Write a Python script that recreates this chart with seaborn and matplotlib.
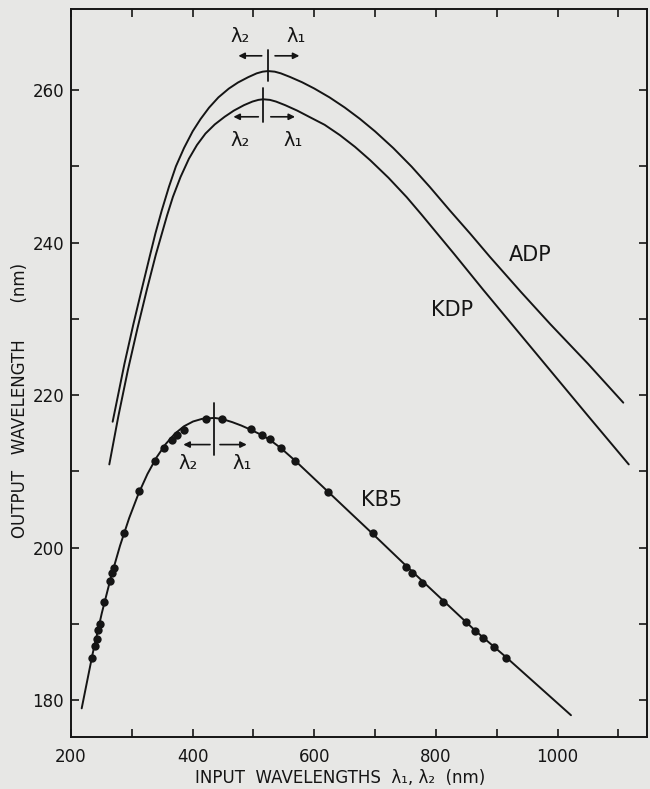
import matplotlib
matplotlib.use("Agg")
import matplotlib.pyplot as plt
import seaborn as sns

# ---------------- data ----------------
adp_x = [268.5, 274.9, 287.9, 302.6, 315.2, 329.2, 338.8, 349.2, 361.0, 372.5,
         385.8, 400.1, 413.0, 427.0, 442.4, 459.5, 474.6, 491.4, 505.3, 515.1,
         524, 535, 545, 560, 580, 600, 625, 650, 675, 700, 730, 760, 790, 823,
         856, 889, 940, 988, 1050, 1108]
adp_y = [216.5, 219.0, 224.1, 229.3, 233.5, 238.1, 241.2, 244.2, 247.3, 250.0,
         252.4, 254.6, 256.2, 257.7, 259.05, 260.2, 261.0, 261.7, 262.2, 262.42,
         262.5, 262.42, 262.2, 261.73, 261.03, 260.21, 259.05, 257.72, 256.23,
         254.58, 252.39, 249.96, 247.29, 244.2, 241.2, 238.1, 233.5, 229.3,
         224.1, 219.0]

kdp_x = [263.0, 278.0, 293.4, 309.4, 324.6, 339.4, 358.0, 367.6, 380.1, 393.9,
         407.1, 421.1, 436.4, 452.6, 467.7, 484.5, 498.4, 508.2, 516, 527, 537,
         552, 572, 592, 617, 642, 667, 692, 722, 752, 776, 830, 878, 930, 988,
         1050, 1117]
kdp_y = [210.9, 217.27, 223.22, 228.79, 233.78, 238.39, 243.57, 246.0, 248.6,
         251.0, 252.8, 254.3, 255.5, 256.5, 257.31, 258.03, 258.5, 258.72, 258.8,
         258.72, 258.5, 258.03, 257.31, 256.48, 255.45, 254.1, 252.55, 250.8,
         248.5, 245.95, 243.7, 238.5, 233.78, 228.79, 223.22, 217.27, 210.9]

kb5_pts_x = [235, 239.5, 242.3, 245, 247.7, 254.8, 264.1, 268, 270.7, 287.2,
             312.3, 338.2, 353.5, 365.6, 373.8, 385.9, 421.5, 448.8, 495.6,
             513.6, 527.3, 544.9, 568.4, 622.2, 697.3, 751, 760.3, 776.8,
             812.4, 849.7, 864.5, 878.1, 896.2, 915.5]
kb5_pts_y = [185.5, 187.1, 188.0, 189.2, 190.0, 192.9, 195.6, 196.7, 197.3, 201.9,
             207.4, 211.3, 213.1, 214.1, 214.8, 215.4, 216.8, 216.8, 215.5,
             214.8, 214.2, 213.1, 211.4, 207.3, 201.9, 197.4, 196.7, 195.4,
             192.8, 190.2, 189.1, 188.1, 187.0, 185.5]

kb5_line_x = [217.6, 235.7, 250.7, 265.7, 280.7, 295.7, 310.7, 325.7, 340.7,
              355.7, 370.7, 385.7, 400.7, 415.7, 435.7, 448.8, 465, 480, 495.6,
              513.6, 527.3, 544.9, 568.4, 595, 622.2, 660, 697.3, 751, 812.4,
              864.5, 915.5, 1022]
kb5_line_y = [178.9, 186.1, 191.4, 196.1, 200.25, 203.87, 207.0, 209.64, 211.82,
              213.57, 214.92, 215.9, 216.53, 216.88, 217.0, 216.85, 216.45, 216.0,
              215.45, 214.75, 214.1, 213.05, 211.4, 209.4, 207.35, 204.5, 201.7,
              197.6, 193.0, 189.1, 185.6, 178.0]

xtick_values = [200, 300, 400, 500, 600, 700, 800, 900, 1000, 1100]
xtick_labels = ["200", "", "400", "", "600", "", "800", "", "1000", ""]
ytick_values = [180, 190, 200, 210, 220, 230, 240, 250, 260, 270]
ytick_labels = ["180", "", "200", "", "220", "", "240", "", "260", ""]

curve_names = ["ADP", "KDP", "KB5"]

# ---------------- style ----------------
sns.set_theme(style="ticks")
plt.rcParams["font.family"] = ["DejaVu Sans"]
paper = "#e7e7e5"
ink = "#151515"

fig = plt.figure(figsize=(6.5, 7.89), dpi=100, facecolor=paper)
ax = fig.add_axes([0.1092, 0.0655, 0.8862, 0.9227], facecolor=paper)

sns.lineplot(x=adp_x, y=adp_y, sort=False, estimator=None, color=ink, lw=1.4, ax=ax)
sns.lineplot(x=kdp_x, y=kdp_y, sort=False, estimator=None, color=ink, lw=1.4, ax=ax)
sns.lineplot(x=kb5_line_x, y=kb5_line_y, sort=False, estimator=None, color=ink, lw=1.4, ax=ax)
sns.scatterplot(x=kb5_pts_x, y=kb5_pts_y, s=36, color=ink, edgecolor=ink,
                linewidth=0, ax=ax, zorder=3)

ax.set_xlim(200, 1147)
ax.set_ylim(175.1, 270.6)

ax.set_xticks(xtick_values)
ax.set_xticklabels(xtick_labels)
ax.set_yticks(ytick_values[:-1])
ax.set_yticklabels(ytick_labels[:-1])
ax.tick_params(axis="both", which="both", direction="in", length=5.5, width=1.2,
               colors=ink, labelsize=12, top=True, right=True)
ax.tick_params(axis="x", pad=8)
ax.tick_params(axis="y", pad=5)
for s in ax.spines.values():
    s.set_linewidth(1.4)
    s.set_color(ink)
    s.set_visible(True)

# peak markers with arrows and lambda labels
peaks = [
    # x, y_lo, y_hi, arrow_y, left_tail, left_head, right_tail, right_head, lab_y, l2_x, l1_x
    (524.5, 261.2, 265.2, 264.5, 513.6, 475.2, 535.5, 575.5, 267.0, 478, 571),
    (516.3, 255.8, 260.3, 256.5, 508.0, 467.0, 528.5, 568.4, 253.4, 478, 565),
    (435.7, 212.1, 218.9, 213.5, 428.6, 384.7, 445.0, 489.0, 211.0, 393, 481),
]
for (px, ylo, yhi, ay, lt, lh, rt, rh, ly, l2x, l1x) in peaks:
    ax.plot([px, px], [ylo, yhi], color=ink, lw=1.3)
    for tail, head in ((lt, lh), (rt, rh)):
        ax.annotate("", xy=(head, ay), xytext=(tail, ay),
                    arrowprops=dict(arrowstyle="-|>", color=ink, lw=1.2,
                                    mutation_scale=9, shrinkA=0, shrinkB=0))
    ax.text(l2x, ly, "λ₂", ha="center", va="center", fontsize=14, color=ink)
    ax.text(l1x, ly, "λ₁", ha="center", va="center", fontsize=14, color=ink)

ax.text(955, 238.4, curve_names[0], ha="center", va="center", fontsize=15, color=ink)
ax.text(826, 231.1, curve_names[1], ha="center", va="center", fontsize=15, color=ink)
ax.text(711, 206.2, curve_names[2], ha="center", va="center", fontsize=15, color=ink)

ax.set_xlabel("INPUT  WAVELENGTHS  λ₁, λ₂  (nm)", fontsize=12, color=ink)
ax.xaxis.label.set_va("center")
ax.xaxis.set_label_coords(0.467, -0.056)
ax.set_ylabel("OUTPUT   WAVELENGTH       (nm)", fontsize=12, color=ink)
ax.yaxis.label.set_va("center")
ax.yaxis.set_label_coords(-0.0885, 0.463)

fig.savefig("out.png", dpi=100, facecolor=paper)
